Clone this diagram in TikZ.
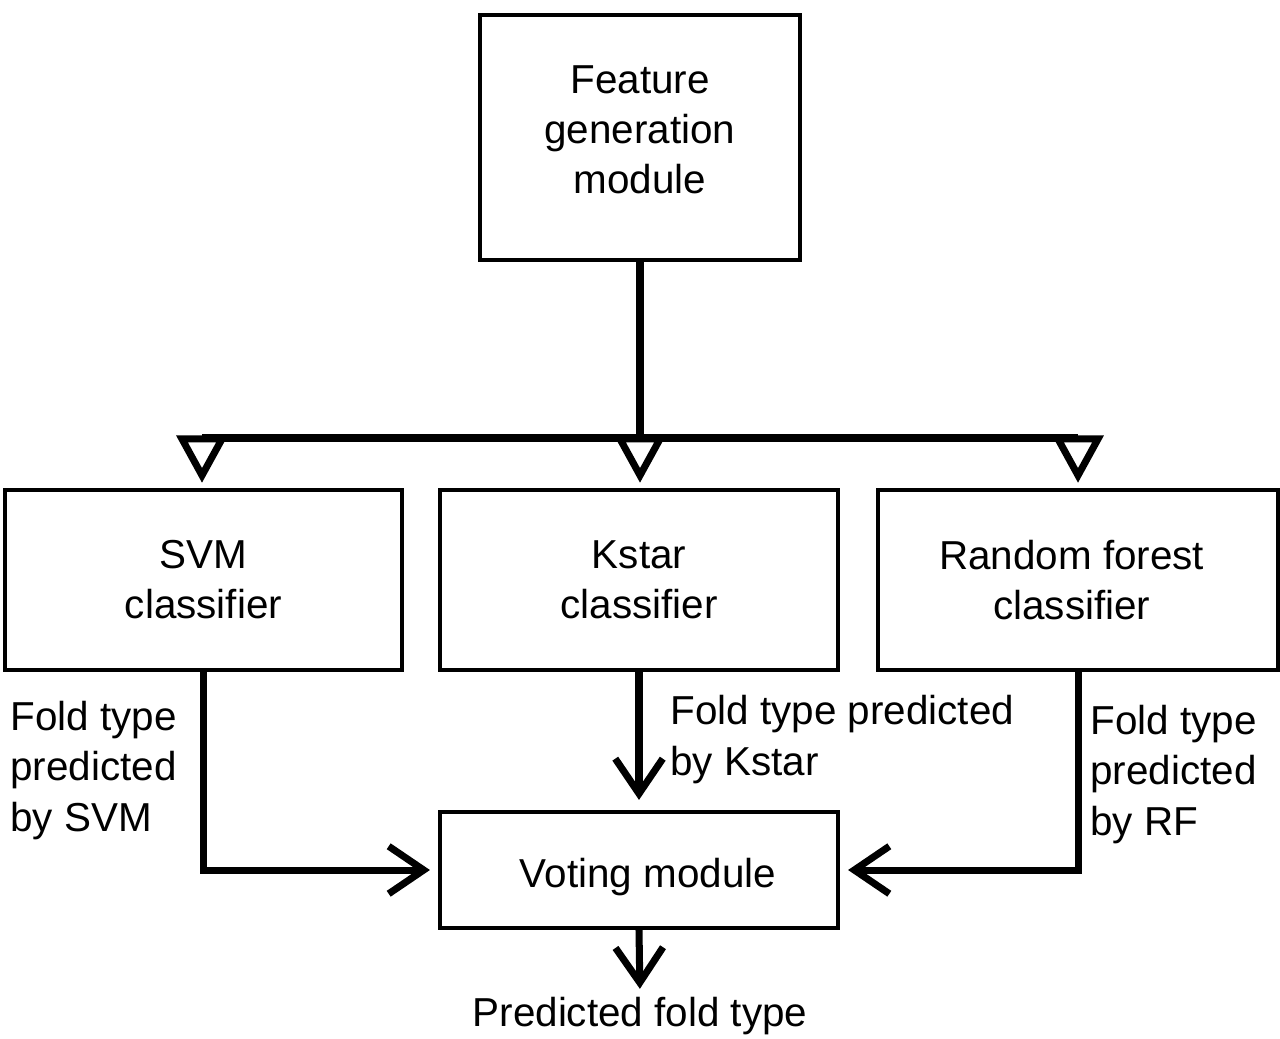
\documentclass[tikz,border=0pt]{standalone}
\usepackage{fontspec}
\setmainfont{Liberation Sans}
\usetikzlibrary{arrows.meta}

\begin{document}
\begin{tikzpicture}[x=0.02cm,y=-0.02cm,
    txt/.style={inner sep=0pt, align=center, font=\fontsize{23}{28.5}\selectfont},
    box/.style={draw, line width=2.4pt, inner sep=0pt},
    lbl/.style={align=left, anchor=base west, inner sep=0pt,
      font=\fontsize{23}{28.5}\selectfont},
    flow/.style={line width=4pt, -{Straight Barb[length=0.7cm, width=0.95cm]}},
    split/.style={line width=4pt, -{Triangle[open, length=0.95cm, width=1cm]}}]
					% Page frame
					\useasboundingbox (0,0) rectangle (1280,1038);
					
					% Feature generation box on top
					\node[box, minimum width=6.4cm, minimum height=4.9cm] (feat) at (640,137.5) {};
					\node[txt] (feattxt) at (640,130) {Feature\\generation\\module};
					
					% The three classifiers
					\node[box, txt, minimum width=7.94cm, minimum height=3.6cm] (svm) at (203.5,580) {SVM\\classifier};
					\node[box, txt, minimum width=7.96cm, minimum height=3.6cm] (kstar) at (639,580) {Kstar\\classifier};
					\node[box, txt, minimum width=8cm, minimum height=3.6cm] (rf) at (1078,580) {Random forest\hspace*{0.25cm}\\classifier\hspace*{0.25cm}};
					
					% Voting module and its output
					\node[box, minimum width=7.96cm, minimum height=2.32cm] (vote) at (639,870) {};
					\node[txt] (votetxt) at (648,877) {Voting module};
					\node[txt] (out) at (640,1016) {Predicted fold type};
					
					% Split the features to the classifiers
					\coordinate (mid) at (640,438);
					\coordinate (left) at (202,438);
					\coordinate (right) at (1078,438);
					\draw[line width=4pt] (feat.south) -- (mid);
					\draw[line width=4pt] (left) -- (right);
					\draw[split, shorten >=0.1cm] (left) -- (svm.north -| left);
					\draw[split, shorten >=0.1cm] (mid) -- (kstar.north -| mid);
					\draw[split, shorten >=0.1cm] (right) -- (rf.north -| right);
					
					% Predictions into the voting module
					\draw[flow, shorten >=0.16cm] (svm.south) |- (vote.west);
					\draw[flow, shorten >=0.2cm] (kstar.south) -- (vote.north -| kstar.south);
					\draw[flow, shorten >=0.16cm] (rf.south) |- (vote.east);
					\draw[flow, shorten >=0.16cm] (vote.south) -- (out.north);
					
					% Labels of the predictions
					\node[lbl] (lsvm) at (10,831) {Fold type\\predicted\\by SVM};
					\node[lbl] (lkstar) at (670,775) {Fold type predicted\\by Kstar};
					\node[lbl] (lrf) at (1090,835) {Fold type\\predicted\\by RF};
				\end{tikzpicture}
\end{document}
